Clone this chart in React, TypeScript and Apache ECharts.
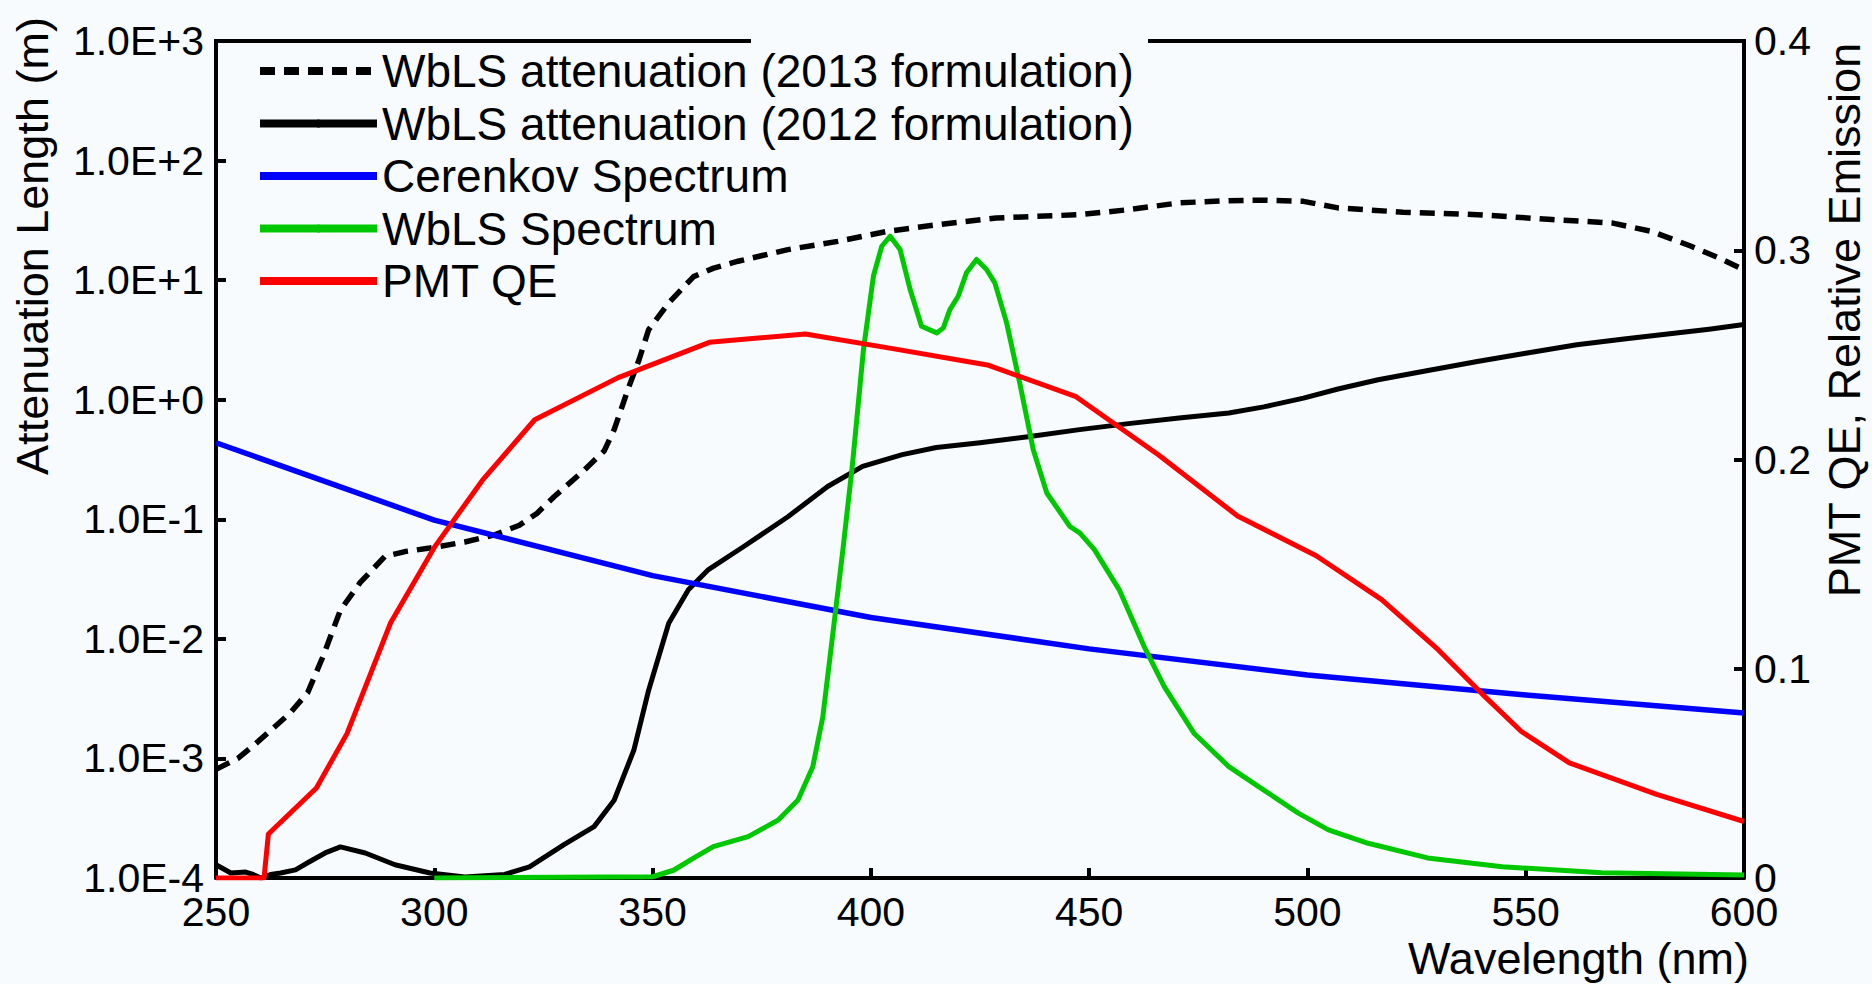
import React, { useEffect, useRef } from "react";
import * as echarts from "echarts";

const FONT = '"Liberation Sans", Arial, Helvetica, sans-serif';

// WbLS attenuation length (m), 2013 formulation
const att2013Nm = [250, 255, 259, 263, 267, 271, 274.5, 278.5, 283, 288.7, 293.3, 299, 307, 313.8, 319.5, 323.5, 327.5, 334.3, 338.9, 341.2, 344.6, 346.9, 349.1, 353.7, 359.4, 364, 369.6, 381, 392.4, 403.8, 415.2, 428.7, 447.8, 459.2, 470.6, 482, 490, 499.1, 507, 521.9, 538.9, 556, 569.7, 578.8, 587.9, 594, 600];
const att2013M = [8.1e-4, 1.0e-3, 1.32e-3, 1.78e-3, 2.4e-3, 3.55e-3, 7.1e-3, 0.0174, 0.0295, 0.049, 0.0537, 0.0575, 0.0646, 0.0741, 0.0891, 0.112, 0.155, 0.257, 0.372, 0.562, 1.29, 2.16, 3.85, 6.46, 10.7, 12.6, 14.4, 18.0, 21.1, 25.6, 29.1, 33.1, 35.3, 38.9, 44.3, 46.2, 46.6, 45.6, 40.2, 37.0, 35.3, 32.1, 30.1, 25.6, 19.2, 15.5, 12.2];

// WbLS attenuation length (m), 2012 formulation
const att2012Nm = [250, 253.4, 256.8, 258.5, 260.3, 262.5, 264.8, 268.2, 271.6, 275, 278.5, 284.2, 291, 299, 307, 316.1, 321.8, 329.8, 336.6, 341.2, 345.7, 349.1, 353.7, 358.2, 362.8, 370.8, 381, 390.1, 398.1, 407.2, 415, 425, 436, 447.8, 459, 470.6, 482, 490, 499.1, 507, 516.2, 527, 538.9, 550, 561.7, 573, 584.5, 592, 600];
const att2012M = [1.29e-4, 1.10e-4, 1.12e-4, 1.07e-4, 1.0e-4, 1.07e-4, 1.10e-4, 1.17e-4, 1.38e-4, 1.62e-4, 1.82e-4, 1.62e-4, 1.29e-4, 1.10e-4, 1.02e-4, 1.07e-4, 1.24e-4, 1.91e-4, 2.69e-4, 4.47e-4, 1.17e-3, 3.72e-3, 0.0135, 0.0257, 0.038, 0.0589, 0.105, 0.188, 0.277, 0.347, 0.398, 0.437, 0.49, 0.562, 0.631, 0.703, 0.774, 0.871, 1.03, 1.23, 1.47, 1.74, 2.09, 2.45, 2.88, 3.24, 3.61, 3.89, 4.25];

// Cerenkov spectrum (relative)
const cerenkovNm = [250, 300, 350, 400, 450, 500, 550, 600];
const cerenkovRel = [0.208, 0.171, 0.1445, 0.1245, 0.1095, 0.097, 0.0875, 0.0788];

// WbLS emission spectrum (relative)
const wblsNm = [300, 350, 354.8, 359, 363.9, 371.9, 378.8, 383.3, 386.7, 389, 391.3, 393.6, 395.8, 398.3, 400.6, 402.5, 404.4, 406.7, 409, 411.6, 415.1, 416.6, 418.1, 420, 421.9, 424.2, 426.5, 428.4, 431.1, 434.1, 437.2, 440.3, 445.6, 447.9, 451.2, 456.9, 462.6, 467.2, 474, 482, 488.8, 497.9, 504.8, 513.9, 527.5, 544.6, 567.4, 600];
const wblsRel = [0, 0.0006, 0.0037, 0.009, 0.015, 0.0198, 0.0277, 0.0373, 0.0532, 0.0771, 0.117, 0.157, 0.198, 0.2525, 0.2878, 0.3019, 0.3067, 0.3003, 0.2812, 0.2637, 0.2605, 0.2629, 0.2716, 0.278, 0.2892, 0.2956, 0.2908, 0.2844, 0.2653, 0.2366, 0.2047, 0.184, 0.168, 0.1648, 0.1569, 0.1377, 0.1106, 0.0915, 0.0692, 0.0532, 0.0437, 0.031, 0.023, 0.0166, 0.0096, 0.0054, 0.0025, 0.0014];

// PMT quantum efficiency
const pmtNm = [250, 261, 262, 273, 280, 290, 300, 311, 323, 342, 363, 385, 405, 427, 447, 466, 484, 502, 517, 530, 540, 549, 560, 580, 600];
const pmtQE = [0, 0, 0.021, 0.043, 0.069, 0.122, 0.158, 0.19, 0.219, 0.239, 0.256, 0.26, 0.253, 0.245, 0.23, 0.202, 0.173, 0.154, 0.133, 0.109, 0.088, 0.07, 0.055, 0.04, 0.027];

const seriesNames = [
  "WbLS attenuation (2013 formulation)",
  "WbLS attenuation (2012 formulation)",
  "Cerenkov Spectrum",
  "WbLS Spectrum",
  "PMT QE",
];

const zip = (xs: number[], ys: number[]) => xs.map((x, i) => [x, ys[i]]);

const expLabel = (v: number) => {
  const e = Math.round(Math.log10(v));
  return "1.0E" + (e >= 0 ? "+" : "-") + Math.abs(e);
};

export default function App() {
  const ref = useRef<HTMLDivElement>(null);

  useEffect(() => {
    if (!ref.current) return;
    const chart = echarts.init(ref.current, undefined, { renderer: "svg" });

    const axisLine = { show: true, lineStyle: { color: "#000", width: 4 } };
    const axisTick = { show: true, inside: true, length: 10, lineStyle: { color: "#000", width: 4 } };
    const tickLabel = { fontSize: 41, color: "#000", fontFamily: FONT };

    const line = (name: string, data: number[][], yAxisIndex: number, color: string, width: number, type: any = "solid") => ({
      name,
      type: "line",
      data,
      yAxisIndex,
      symbol: "none",
      showSymbol: false,
      lineStyle: { color, width, type, cap: "butt", join: "round" },
      itemStyle: { color },
      emphasis: { disabled: true },
    });

    chart.setOption({
      animation: false,
      backgroundColor: "#f8fbfd",
      textStyle: { fontFamily: FONT },
      grid: { left: 216, right: 128, top: 41, bottom: 106, containLabel: false },
      legend: {
        orient: "vertical",
        left: 256,
        top: 48,
        padding: 0,
        itemWidth: 117,
        itemHeight: 10,
        itemGap: 6.5,
        selectedMode: false,
        data: seriesNames,
        textStyle: { fontSize: 46, color: "#000", fontFamily: FONT },
        lineStyle: { width: 8 },
      },
      xAxis: {
        type: "value",
        min: 250,
        max: 600,
        interval: 50,
        axisLine,
        axisTick,
        axisLabel: { ...tickLabel, margin: 13 },
        splitLine: { show: false },
      },
      yAxis: [
        {
          type: "log",
          logBase: 10,
          min: 1e-4,
          max: 1e3,
          position: "left",
          axisLine,
          axisTick,
          axisLabel: { ...tickLabel, margin: 12, formatter: expLabel },
          splitLine: { show: false },
          minorTick: { show: false },
        },
        {
          type: "value",
          min: 0,
          max: 0.4,
          interval: 0.1,
          position: "right",
          axisLine,
          axisTick,
          axisLabel: { ...tickLabel, margin: 10 },
          splitLine: { show: false },
        },
      ],
      series: [
        line(seriesNames[0], zip(att2013Nm, att2013M), 0, "#000000", 5.5, [15, 9]),
        line(seriesNames[1], zip(att2012Nm, att2012M), 0, "#000000", 5),
        line(seriesNames[2], zip(cerenkovNm, cerenkovRel), 1, "#0000ff", 5.5),
        line(seriesNames[3], zip(wblsNm, wblsRel), 1, "#00c800", 5),
        line(seriesNames[4], zip(pmtNm, pmtQE), 1, "#ff0000", 5),
      ],
      graphic: [
        { type: "line", shape: { x1: 214, y1: 41, x2: 751, y2: 41 }, style: { stroke: "#000", lineWidth: 4 } },
        { type: "line", shape: { x1: 1148, y1: 41, x2: 1746, y2: 41 }, style: { stroke: "#000", lineWidth: 4 } },
        {
          type: "text",
          x: 32,
          y: 246,
          rotation: Math.PI / 2,
          style: { text: "Attenuation Length (m)", fontSize: 45, fontFamily: FONT, fill: "#000", align: "center", verticalAlign: "middle" },
        },
        {
          type: "text",
          x: 1844,
          y: 320,
          rotation: Math.PI / 2,
          style: { text: "PMT QE, Relative Emission", fontSize: 45, fontFamily: FONT, fill: "#000", align: "center", verticalAlign: "middle" },
        },
        {
          type: "text",
          x: 1749,
          y: 958,
          style: { text: "Wavelength (nm)", fontSize: 45, fontFamily: FONT, fill: "#000", align: "right", verticalAlign: "middle" },
        },
      ],
    });

    return () => chart.dispose();
  }, []);

  return <div ref={ref} style={{ position: "fixed", left: 0, top: 0, width: 1872, height: 984 }} />;
}
